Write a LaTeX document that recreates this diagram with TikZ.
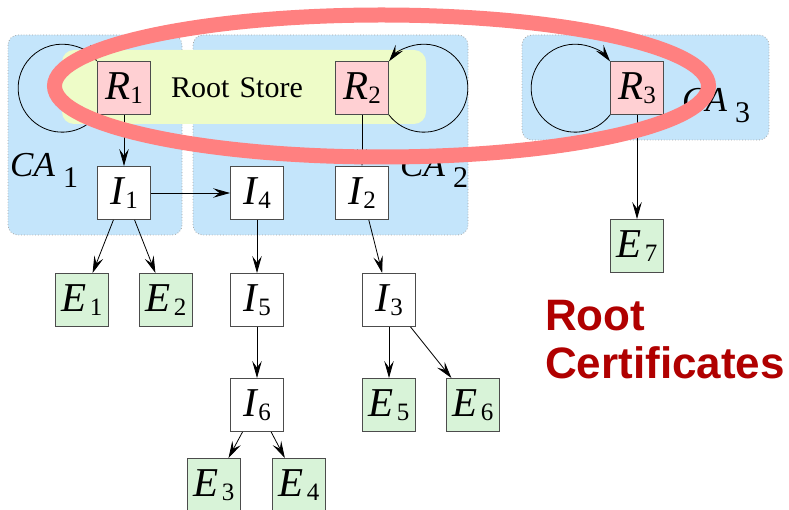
\documentclass[tikz,border=0pt]{standalone}
\usepackage{fontspec}
\setmainfont{LiberationSerif}[Extension=.ttf, UprightFont=*-Regular, ItalicFont=*-Italic, BoldFont=*-Bold, BoldItalicFont=*-BoldItalic]
\setsansfont{LiberationSans}[Extension=.ttf, UprightFont=*-Regular, ItalicFont=*-Italic, BoldFont=*-Bold, BoldItalicFont=*-BoldItalic]
\usetikzlibrary{arrows.meta}
\definecolor{cablue}{HTML}{C4E5FB}
\definecolor{storegreen}{HTML}{EEFCC8}
\definecolor{rootpink}{HTML}{FFD0D3}
\definecolor{eegreen}{HTML}{D8F3D8}
\definecolor{ringred}{HTML}{FF8080}
\definecolor{titlered}{HTML}{B00000}
\newcommand\lbl[2]{\textit{#1}\raisebox{-4pt}{\fontsize{25}{25}\selectfont #2}}
\newcommand\elbl[2]{\textit{#1}\kern3pt\raisebox{-4pt}{\fontsize{25}{25}\selectfont #2}}
\newcommand\calbl[1]{\textit{CA}\kern8pt\raisebox{-11pt}{\fontsize{30}{30}\selectfont #1}}
\tikzset{
  cert/.style={draw=black!70, line width=0.9pt, minimum width=53pt, minimum height=53pt,
    inner sep=0pt, font=\fontsize{41}{41}\selectfont},
  rootc/.style={cert, fill=rootpink},
  interc/.style={cert, fill=white},
  endc/.style={cert, fill=eegreen},
  caregion/.style={fill=cablue, draw=black!35, dotted, line width=0.8pt, rounded corners=10pt},
  arr/.style={line width=0.8pt, -{Stealth[length=17pt,width=9.5pt,inset=6.5pt]}},
  calabel/.style={anchor=base west, inner sep=0pt, font=\fontsize{35}{35}\selectfont}
}
\begin{document}
\begin{tikzpicture}[x=1pt,y=-1pt]
\useasboundingbox (0,0) rectangle (789,510);
% CA regions
\path[caregion] (8,35) rectangle (182,235);
\path[caregion] (193,35) rectangle (468,235);
\path[caregion] (522,35) rectangle (769,140);
% root store
\fill[storegreen, rounded corners=12pt] (62,50) rectangle (426,124);
\node[inner sep=0pt, font=\fontsize{30}{30}\selectfont] (store) at (237,88) {Root\hspace{10pt}Store};
% CA labels
\node[calabel] (ca1) at (10,177) {\calbl{1}};
\node[calabel] (ca2) at (400,177) {\calbl{2}};
\node[calabel] (ca3) at (682,112) {\calbl{3}};
% certificates
\node[rootc] (R1) at (124,88) {\lbl{R}{1}};
\node[rootc] (R2) at (362,88) {\lbl{R}{2}};
\node[rootc] (R3) at (637,88) {\lbl{R}{3}};
\node[interc] (I1) at (124,193) {\lbl{I}{1}};
\node[interc] (I4) at (257,193) {\lbl{I}{4}};
\node[interc] (I2) at (362,193) {\lbl{I}{2}};
\node[interc] (I5) at (257,300) {\lbl{I}{5}};
\node[interc] (I3) at (389,300) {\lbl{I}{3}};
\node[interc] (I6) at (257,405) {\lbl{I}{6}};
\node[endc] (E1) at (82,300) {\elbl{E}{1}};
\node[endc] (E2) at (166,300) {\elbl{E}{2}};
\node[endc] (E3) at (214,485) {\elbl{E}{3}};
\node[endc] (E4) at (299,485) {\elbl{E}{4}};
\node[endc] (E5) at (389,405) {\elbl{E}{5}};
\node[endc] (E6) at (473,405) {\elbl{E}{6}};
\node[endc] (E7) at (637,246) {\elbl{E}{7}};
% self loops
\draw[arr] (R1.south west) arc[start angle=37.5, end angle=322.5, radius=44];
\draw[arr] (R3.south west) arc[start angle=37.5, end angle=322.5, radius=44];
\draw[arr] (R2.south east) arc[start angle=142.5, end angle=-142.5, radius=44];
% edges
\draw[arr] (R1) -- (I1);
\draw[arr] (I1) -- (I4);
\draw[arr] (I1) -- (E1);
\draw[arr] (I1) -- (E2);
\draw[arr] (I4) -- (I5);
\draw[arr] (I5) -- (I6);
\draw[arr] (I6) -- (E3);
\draw[arr] (I6) -- (E4);
\draw[arr] (R2) -- (I2);
\draw[arr] (I2) -- (I3);
\draw[arr] (I3) -- (E5);
\draw[arr] (I3) -- (E6);
\draw[arr] (R3) -- (E7);
% highlight ring
\draw[ringred, line width=15pt] (381.5,86) ellipse [x radius=327, y radius=71];
% title
\node[anchor=north west, inner sep=0pt, align=left, text=titlered,
  font=\fontsize{44}{48}\selectfont\sffamily\bfseries] (title) at (545,300) {Root\\Certificates};
\end{tikzpicture}
\end{document}
